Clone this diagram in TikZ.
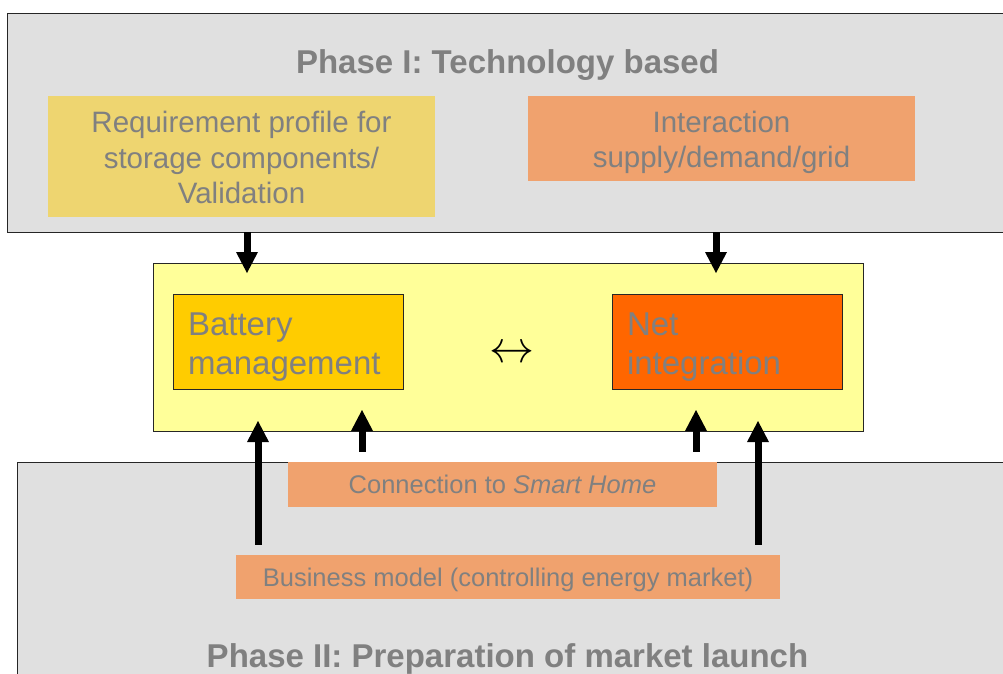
\documentclass[tikz,border=0pt]{standalone}
\usepackage{fontspec}
\setmainfont{Liberation Sans}
\definecolor{panelgray}{RGB}{224, 224, 224}
\definecolor{textgray}{RGB}{128, 128, 128}
\definecolor{reqyellow}{RGB}{238, 213, 112}
\definecolor{softorange}{RGB}{240, 162, 110}
\definecolor{paleyellow}{RGB}{255, 255, 153}
\definecolor{gold}{RGB}{255, 204, 0}
\definecolor{netorange}{RGB}{255, 102, 0}
\usetikzlibrary{arrows.meta, positioning}
\tikzset{
	panel/.style={rectangle, draw=black!85, fill=panelgray, line width=0.8pt, inner sep=0pt},
	phasetitle/.style={anchor=base, text=textgray, font=\fontsize{33}{39}\selectfont\bfseries},
	topic/.style={rectangle, inner sep=0pt, align=center, text=textgray, font=\fontsize{29.5}{35.5}\selectfont},
	block/.style={rectangle, draw=black!85, line width=0.8pt, inner xsep=15pt, inner ysep=0pt, text width=200pt, align=left, minimum height=95pt, text=textgray, font=\fontsize{33}{39}\selectfont},
	bar/.style={rectangle, fill=softorange, inner sep=0pt, text=textgray, font=\fontsize{25.5}{30}\selectfont},
	arrow/.style={-{Triangle[length=21pt, width=22pt, line width=0pt]}, line width=7pt, draw=black},
	uparrow/.style={arrow, shorten <=10pt},
}
\begin{document}
\begin{tikzpicture}[x=1pt, y=-1pt]
		\useasboundingbox (0,0) rectangle (1003,673);
		% phase I
		\node[panel, minimum width=1002.5pt, minimum height=218.5pt] (phaseone) at (508.75,122.75) {};
		\node[phasetitle] (titleone) at (507.5,73) {Phase I: Technology based};
		\node[topic, fill=reqyellow, minimum width=387pt, minimum height=121pt] (req) at (241.5,156.5) {\rule{0pt}{24pt}Requirement profile for\\storage components/\\Validation};
		\node[topic, fill=softorange, minimum width=387pt, minimum height=85pt] (interact) at (721.5,138.5) {\rule{0pt}{29pt}Interaction\\supply/demand/grid};
		% phase II
		\node[panel, minimum width=993pt, minimum height=230pt] (phasetwo) at (513.5,577) {};
		\node[phasetitle] (titletwo) at (507.5,667) {Phase II: Preparation of market launch};
		\node[bar, minimum width=429pt, minimum height=45pt] (smarthome) at (502.5,484.5) {Connection to \textit{Smart Home}};
		\node[bar, minimum width=544pt, minimum height=44pt] (business) at (508,577) {\rule{0pt}{24pt}Business model (controlling energy market)};
		% core
		\node[rectangle, draw=black!85, line width=0.8pt, fill=paleyellow, minimum width=710pt, minimum height=168pt] (core) at (508,347) {};
		\node[block, fill=gold] (battery) at (288,341.5) {\rule{0pt}{34pt}Battery\\management};
		\node[block, fill=netorange] (net) at (727,341.5) {\rule{0pt}{34pt}Net\\integration};
		\node[inner sep=0pt] (swap) at (512,354) {\scalebox{4.5}{$\leftrightarrow$}};
		% arrows
		\coordinate (tipa) at (247,273);
		\coordinate (tipb) at (716,273);
		\coordinate (tipc) at (258,421);
		\coordinate (tipd) at (362,410);
		\coordinate (tipe) at (696,410);
		\coordinate (tipf) at (758,421);
		\draw[arrow] (phaseone.south -| tipa) -- (tipa);
		\draw[arrow] (phaseone.south -| tipb) -- (tipb);
		\draw[uparrow] (business.north -| tipc) -- (tipc);
		\draw[uparrow] (smarthome.north -| tipd) -- (tipd);
		\draw[uparrow] (smarthome.north -| tipe) -- (tipe);
		\draw[uparrow] (business.north -| tipf) -- (tipf);
	\end{tikzpicture}
\end{document}
